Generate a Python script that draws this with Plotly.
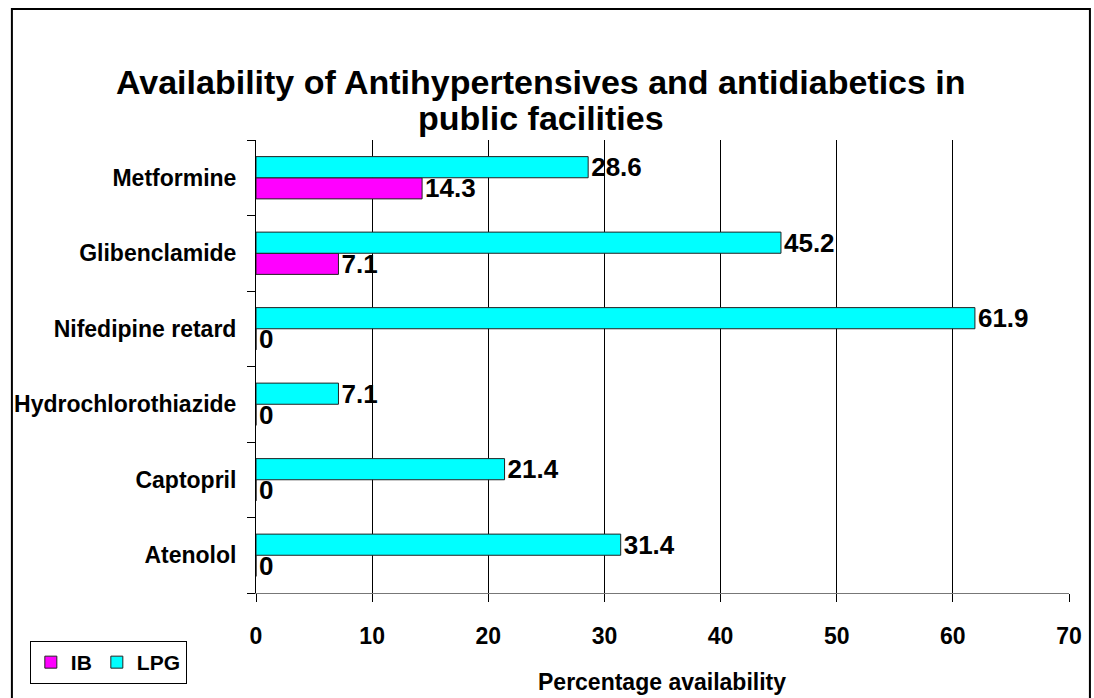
import plotly.graph_objects as go

# Drug list, bottom to top
drugs = ["Atenolol", "Captopril", "Hydrochlorothiazide",
         "Nifedipine retard", "Glibenclamide", "Metformine"]
ib_values = [0, 0, 0, 0, 7.1, 14.3]
lpg_values = [31.4, 21.4, 7.1, 61.9, 45.2, 28.6]
x_ticks = [0, 10, 20, 30, 40, 50, 60, 70]

FONT = "Arial, Liberation Sans, sans-serif"
L, R, T, B = 256, 22, 140, 105
PW, PH = 1094 - L - R, 698 - T - B


def px_x(x):
    return (x - L) / PW


def px_y(y):
    return (698 - B - y) / PH


fig = go.Figure()
for name, vals, color in [("IB", ib_values, "#FF00FF"), ("LPG", lpg_values, "#00FFFF")]:
    fig.add_trace(go.Bar(
        name=f"<b>{name}</b>", y=drugs, x=vals, orientation="h",
        marker=dict(color=color, line=dict(color="#222222", width=1)),
        texttemplate="<b>%{x}</b>", textposition="outside",
        textfont=dict(family=FONT, size=26, color="black"),
        constraintext="none", cliponaxis=False,
    ))

fig.update_layout(
    width=1094, height=698,
    margin=dict(l=L, r=R, t=T, b=B),
    paper_bgcolor="white", plot_bgcolor="white",
    barmode="group", bargap=0.44, bargroupgap=0,
    font=dict(family=FONT, color="black"),
    showlegend=True,
    legend=dict(
        orientation="h", x=px_x(29), y=px_y(641), xanchor="left", yanchor="top",
        bgcolor="white", bordercolor="black", borderwidth=1,
        font=dict(family=FONT, size=21, color="black"),
        traceorder="normal", itemwidth=30,
    ),
    xaxis=dict(
        range=[0, 70], tickvals=x_ticks, ticktext=[f"<b>{t}</b>" for t in x_ticks],
        showgrid=True, gridcolor="black", gridwidth=1, zeroline=False,
        showline=True, linecolor="#777777", linewidth=1,
        ticks="outside", ticklen=8, tickcolor="black",
        tickfont=dict(family=FONT, size=23, color="black"),
        ticklabelstandoff=14,
    ),
    yaxis=dict(
        showgrid=False, zeroline=False,
        showline=True, linecolor="black", linewidth=1,
        ticks="outside", ticklen=8, tickcolor="black",
        tickson="boundaries", ticklabelstandoff=14,
        tickvals=drugs, ticktext=[f"<b>{d}</b>" for d in drugs],
        tickfont=dict(family=FONT, size=23, color="black"),
    ),
)

# Title (two lines) and axis title
title_lines = ["Availability of Antihypertensives and antidiabetics in", "public facilities"]
for line, yc in zip(title_lines, [82, 118]):
    fig.add_annotation(text=f"<b>{line}</b>", xref="paper", yref="paper",
                       x=px_x(542), y=px_y(yc), xanchor="center", yanchor="middle",
                       showarrow=False, font=dict(family=FONT, size=34, color="black"))
fig.add_annotation(text="<b>Percentage availability</b>", xref="paper", yref="paper",
                   x=px_x(663), y=px_y(682), xanchor="center", yanchor="middle",
                   showarrow=False, font=dict(family=FONT, size=23, color="black"))

# Outer frame around the chart
fig.add_shape(type="rect", xref="paper", yref="paper",
              x0=px_x(11), x1=px_x(1093), y0=px_y(710), y1=px_y(9),
              line=dict(color="black", width=2), layer="above")

fig.write_html("out.html")
